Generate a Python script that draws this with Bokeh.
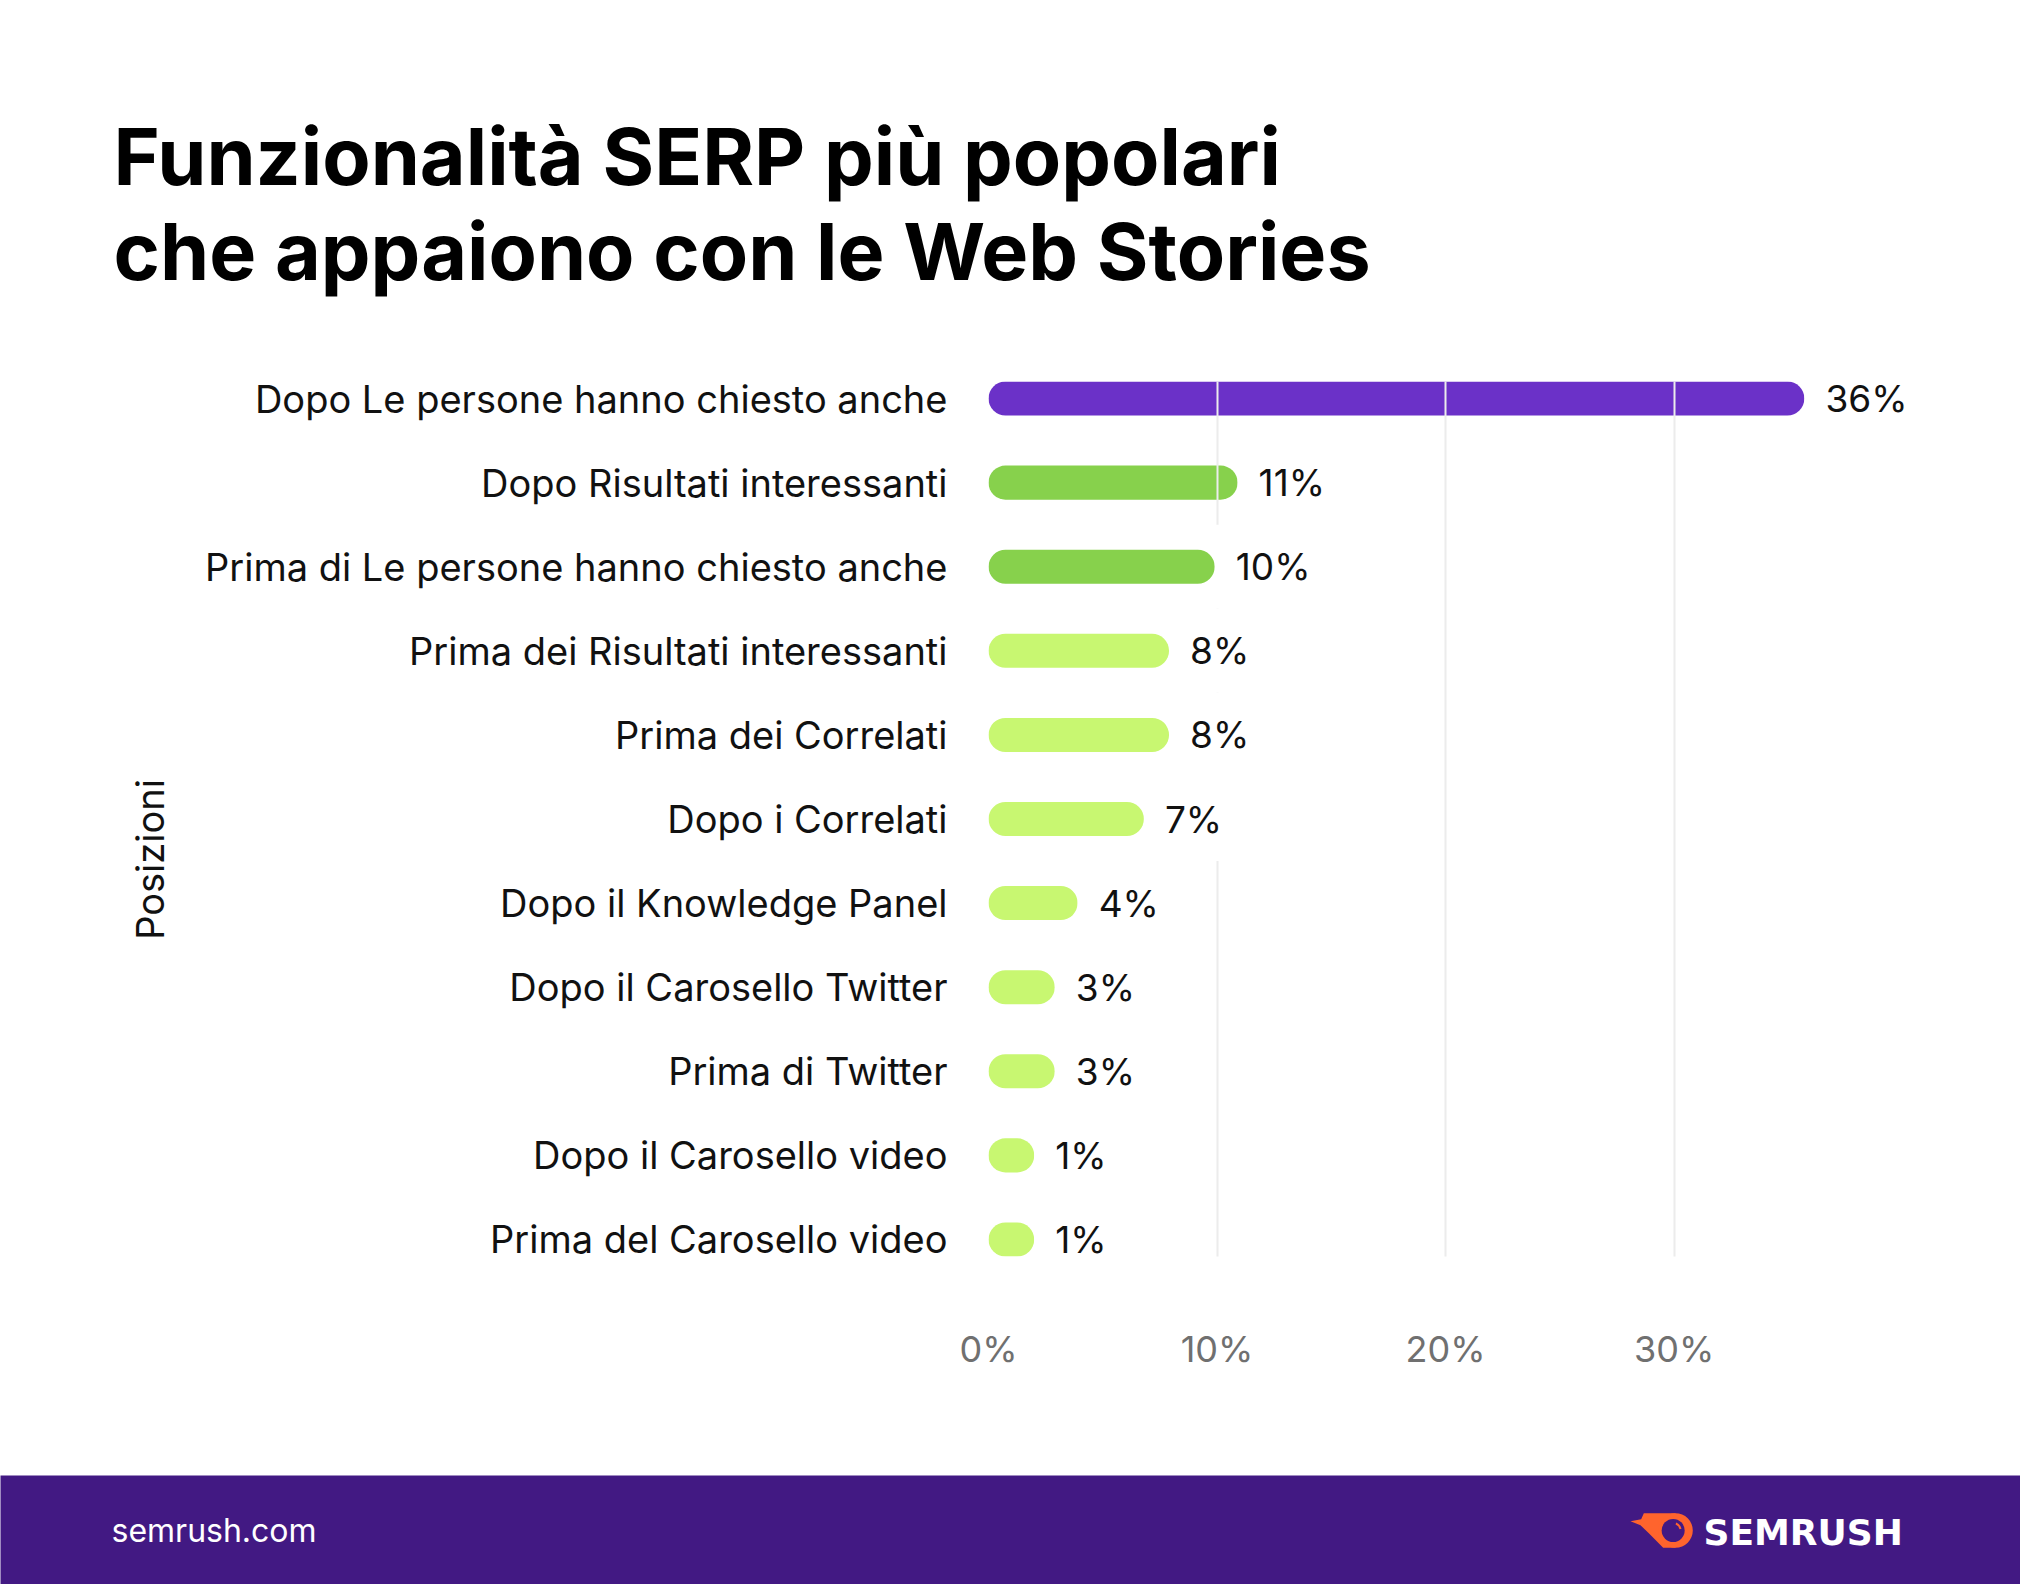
import numpy as np
from bokeh.plotting import figure
from bokeh.models import Range1d, FixedTicker, ColumnDataSource
from bokeh.layouts import column, row
from bokeh.core.properties import value
from bokeh.embed import file_html
from bokeh.resources import INLINE

# ---------------- data ----------------
categories = [
    "Dopo Le persone hanno chiesto anche",
    "Dopo Risultati interessanti",
    "Prima di Le persone hanno chiesto anche",
    "Prima dei Risultati interessanti",
    "Prima dei Correlati",
    "Dopo i Correlati",
    "Dopo il Knowledge Panel",
    "Dopo il Carosello Twitter",
    "Prima di Twitter",
    "Dopo il Carosello video",
    "Prima del Carosello video",
]
shares = [35.7, 10.9, 9.9, 7.9, 7.9, 6.8, 3.9, 2.9, 2.9, 1.1, 1.1]
x_ticks = [0, 10, 20, 30]
x_tick_labels = ["0%", "10%", "20%", "30%"]
grid_ticks = [10, 20, 30]
title_lines = ["Funzionalità SERP più popolari", "che appaiono con le Web Stories"]
axis_title = "Posizioni"
footer_site = "semrush.com"
footer_brand = "SEMRUSH"

# ---------------- styles ----------------
bar_colors = ["#6b31c8", "#87d14c", "#87d14c"] + ["#c8f771"] * 8
FOOT_BG = "#421983"
ORANGE = "#ff642d"
FONT = "Inter"
W = 2020
H = 1584
TITLE_H = 300
FOOT_H = 109
CHART_H = H - TITLE_H - FOOT_H
SIDE_W = 200
CHART_W = W - SIDE_W
ROW_PX = 84.0
BAR_PX = 34.0
PX_PER_UNIT = 22.85
X_END = 41
FRAME_LEFT = 988 - SIDE_W
FRAME_W = int(round(X_END * PX_PER_UNIT))
MIN_LEN = 2.0
CAT_FS = "38px"
VAL_FS = "37px"
TICK_FS = "36px"

n = len(categories)
ypos = list(range(n))
pad = (BAR_PX / 2) / ROW_PX
bar_h = BAR_PX / ROW_PX
bar_end = [max(v, MIN_LEN) for v in shares]
labels = [f"{round(v)}%" for v in shares]
src = ColumnDataSource(dict(
    y=ypos, v=shares, end=bar_end, box_end=[e + 4.0 for e in bar_end],
    lab=labels, color=bar_colors,
))


def blank(width, height, **kw):
    f = figure(width=width, height=height, x_range=Range1d(0, width), y_range=Range1d(0, height),
               output_backend="svg", toolbar_location=None, x_axis_type=None, y_axis_type=None,
               min_border=0, outline_line_color=None, frame_align=False, **kw)
    f.grid.visible = False
    return f


# ---------------- title ----------------
tf = blank(W, TITLE_H)
tf.text(x=[113, 113], y=[145, 50], text=title_lines,
        text_font=value(FONT), text_font_style="bold", text_font_size="79px",
        text_color="#000000", text_baseline="alphabetic", text_align="left")

# ---------------- side (axis title) ----------------
sf = blank(SIDE_W, CHART_H)
sf.text(x=[149], y=[CHART_H - (859 - TITLE_H)], text=[axis_title], angle=np.pi / 2,
        text_font=value(FONT), text_font_size=CAT_FS, text_color="#111111",
        text_align="center", text_baseline="middle")

# ---------------- chart ----------------
p = figure(width=CHART_W, height=CHART_H,
           x_range=Range1d(0, X_END), y_range=Range1d(n - 1 + pad, -pad),
           output_backend="svg", toolbar_location=None, frame_align=False,
           min_border_left=FRAME_LEFT, min_border_right=CHART_W - FRAME_LEFT - FRAME_W,
           min_border_top=381 - TITLE_H, min_border_bottom=CHART_H - (1256 - TITLE_H),
           outline_line_color=None)

p.hbar(y="y", left=0, right="end", height=bar_h, fill_color="color", line_color=None,
       border_radius=int(BAR_PX / 2), source=src)

bg = p.hbar(y="y", left="end", right="box_end", height=1.0, fill_color="white",
            line_color=None, source=src)
bg.level = "annotation"

tx = p.text(x="end", y="y", text="lab", x_offset=21, text_baseline="middle", text_align="left",
            text_font=value(FONT), text_font_size=VAL_FS, text_color="#111111", source=src)
tx.level = "overlay"

p.xgrid.ticker = FixedTicker(ticks=grid_ticks)
p.xgrid.grid_line_color = "#ececec"
p.xgrid.grid_line_width = 2
p.xgrid.level = "guide"
p.ygrid.visible = False

p.xaxis.ticker = FixedTicker(ticks=x_ticks)
p.xaxis.major_label_overrides = {t: l for t, l in zip(x_ticks, x_tick_labels)}
p.yaxis.ticker = FixedTicker(ticks=ypos)
p.yaxis.major_label_overrides = {i: c for i, c in zip(ypos, categories)}
for ax in (p.xaxis, p.yaxis):
    ax.axis_line_color = None
    ax.major_tick_line_color = None
    ax.minor_tick_line_color = None
    ax.major_tick_in = 0
    ax.major_tick_out = 0
    ax.major_label_text_font = FONT
p.xaxis.major_label_text_font_size = TICK_FS
p.xaxis.major_label_text_color = "#707070"
p.xaxis.major_label_standoff = 70
p.yaxis.major_label_text_font_size = CAT_FS
p.yaxis.major_label_text_color = "#111111"
p.yaxis.major_label_standoff = 41

# ---------------- footer ----------------
ff = blank(W, FOOT_H, background_fill_color=FOOT_BG, border_fill_color=FOOT_BG)
ff.text(x=[111], y=[54], text=[footer_site], text_font=value(FONT), text_font_size="32px",
        text_color="white", text_baseline="alphabetic", text_align="left")
ff.text(x=[1703], y=[52], text=[footer_brand], text_font=value("DejaVu Sans"),
        text_font_style="bold", text_font_size="36px",
        text_color="white", text_baseline="alphabetic", text_align="left")

# logo icon (flame + ring), defined on a 3x local grid
flame = [(70, 38), (165, 38), (165, 142), (128, 142), (85, 98), (60, 74), (30, 62), (62, 56)]
fx = [1620 + a / 3 for a, b in flame]
fy = [84 - b / 3 for a, b in flame]
ff.patch(fx, fy, fill_color=ORANGE, line_color=None)
ff.circle(x=[1620 + 165 / 3], y=[84 - 90 / 3], radius=17.3, fill_color=ORANGE, line_color=None)
ff.circle(x=[1620 + 158 / 3], y=[84 - 90 / 3], radius=11.5, fill_color=FOOT_BG, line_color=None)
ff.annular_wedge(x=[1620 + 158 / 3], y=[84 - 90 / 3], inner_radius=6.5, outer_radius=8.5,
                 start_angle=0.2, end_angle=1.2, fill_color=ORANGE, line_color=None)

layout = column(tf, row(sf, p, spacing=0), ff, spacing=0)
open("out.html", "w").write(file_html(layout, INLINE))
